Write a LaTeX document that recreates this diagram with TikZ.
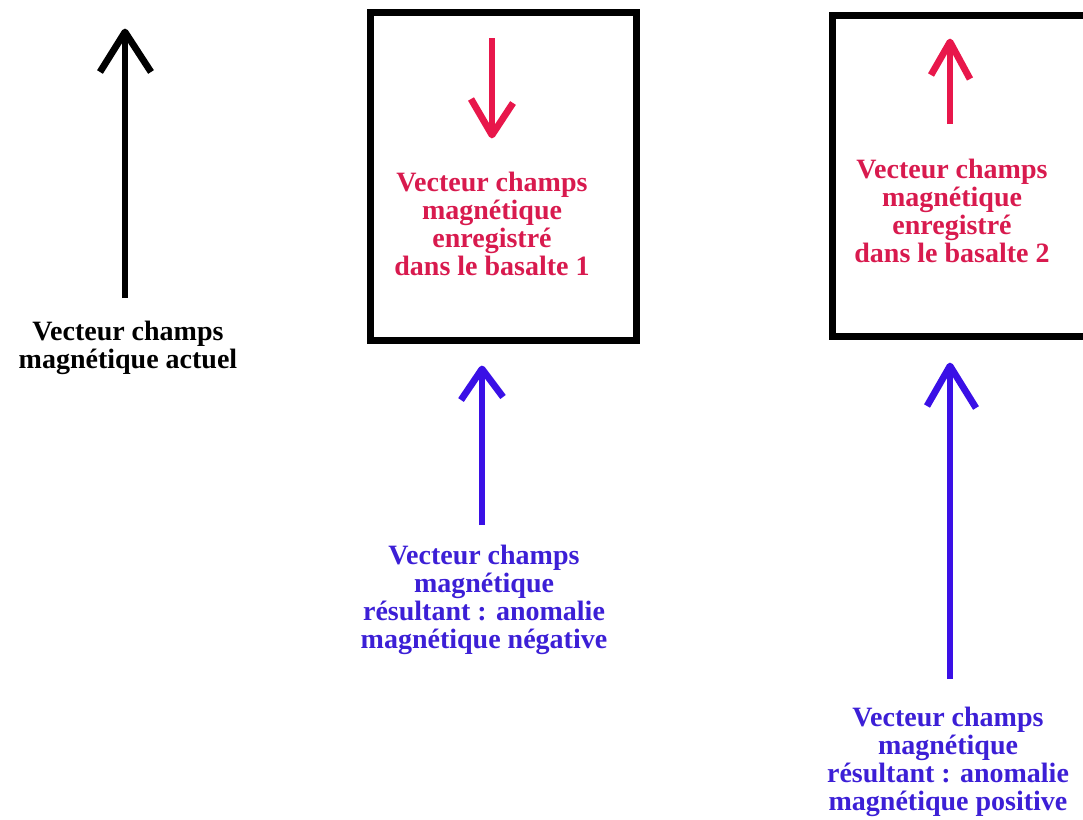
\documentclass[tikz,border=0pt]{standalone}
\usepackage{fontspec}
\setmainfont{Liberation Serif}
\usetikzlibrary{calc}
\definecolor{vred}{HTML}{E8174B}
\definecolor{tred}{HTML}{D81A4E}
\definecolor{vblue}{HTML}{3A10E6}
\definecolor{tblue}{HTML}{3C1FD6}
\tikzset{
  vec/.style={line width=6.8pt, line cap=butt, line join=round},
  boxline/.style={line width=7pt, line join=miter},
  lbl/.style={align=center, inner sep=0pt, font=\bfseries\fontsize{28}{28}\selectfont}
}
\begin{document}
\begin{tikzpicture}[x=1pt,y=-1pt]
\useasboundingbox (0,0) rectangle (1083,819);
% boxes
\draw[boxline] (370,12) rectangle (636,340);
\draw[boxline] (1095,15) -- (832,15) -- (832,336) -- (1095,336);
% black arrow
\coordinate (kt) at (125,32);
\coordinate (kb) at (125,298);
\draw[vec] (kb) -- (kt);
\draw[vec] ($(kt)+(-25,40)$) -- (kt) -- ($(kt)+(26,40)$);
\node[lbl] (kl) at (128,348) {Vecteur champs\\magnétique actuel};
% red arrow 1 (down)
\coordinate (r1t) at (492,135);
\coordinate (r1b) at (492,38);
\draw[vec, vred] (r1b) -- (r1t);
\draw[vec, vred] ($(r1t)+(-21,-36)$) -- (r1t) -- ($(r1t)+(21,-32)$);
\node[lbl, text=tred] (r1l) at (492,224) {Vecteur champs\\magnétique\\enregistré\\dans le basalte 1};
% red arrow 2 (up)
\coordinate (r2t) at (950,42);
\coordinate (r2b) at (950,124);
\draw[vec, vred] (r2b) -- (r2t);
\draw[vec, vred] ($(r2t)+(-19,33)$) -- (r2t) -- ($(r2t)+(20,37)$);
\node[lbl, text=tred] (r2l) at (952,211) {Vecteur champs\\magnétique\\enregistré\\dans le basalte 2};
% blue arrow 1
\coordinate (b1t) at (482,369);
\coordinate (b1b) at (482,525);
\draw[vec, vblue] (b1b) -- (b1t);
\draw[vec, vblue] ($(b1t)+(-21,31)$) -- (b1t) -- ($(b1t)+(21,28)$);
\node[lbl, text=tblue] (b1l) at (484,600) {Vecteur champs\\magnétique\\résultant : anomalie\\magnétique négative};
% blue arrow 2
\coordinate (b2t) at (950,366);
\coordinate (b2b) at (950,679);
\draw[vec, vblue] (b2b) -- (b2t);
\draw[vec, vblue] ($(b2t)+(-23,40)$) -- (b2t) -- ($(b2t)+(26,42)$);
\node[lbl, text=tblue] (b2l) at (948,762) {Vecteur champs\\magnétique\\résultant : anomalie\\magnétique positive};
\end{tikzpicture}
\end{document}
